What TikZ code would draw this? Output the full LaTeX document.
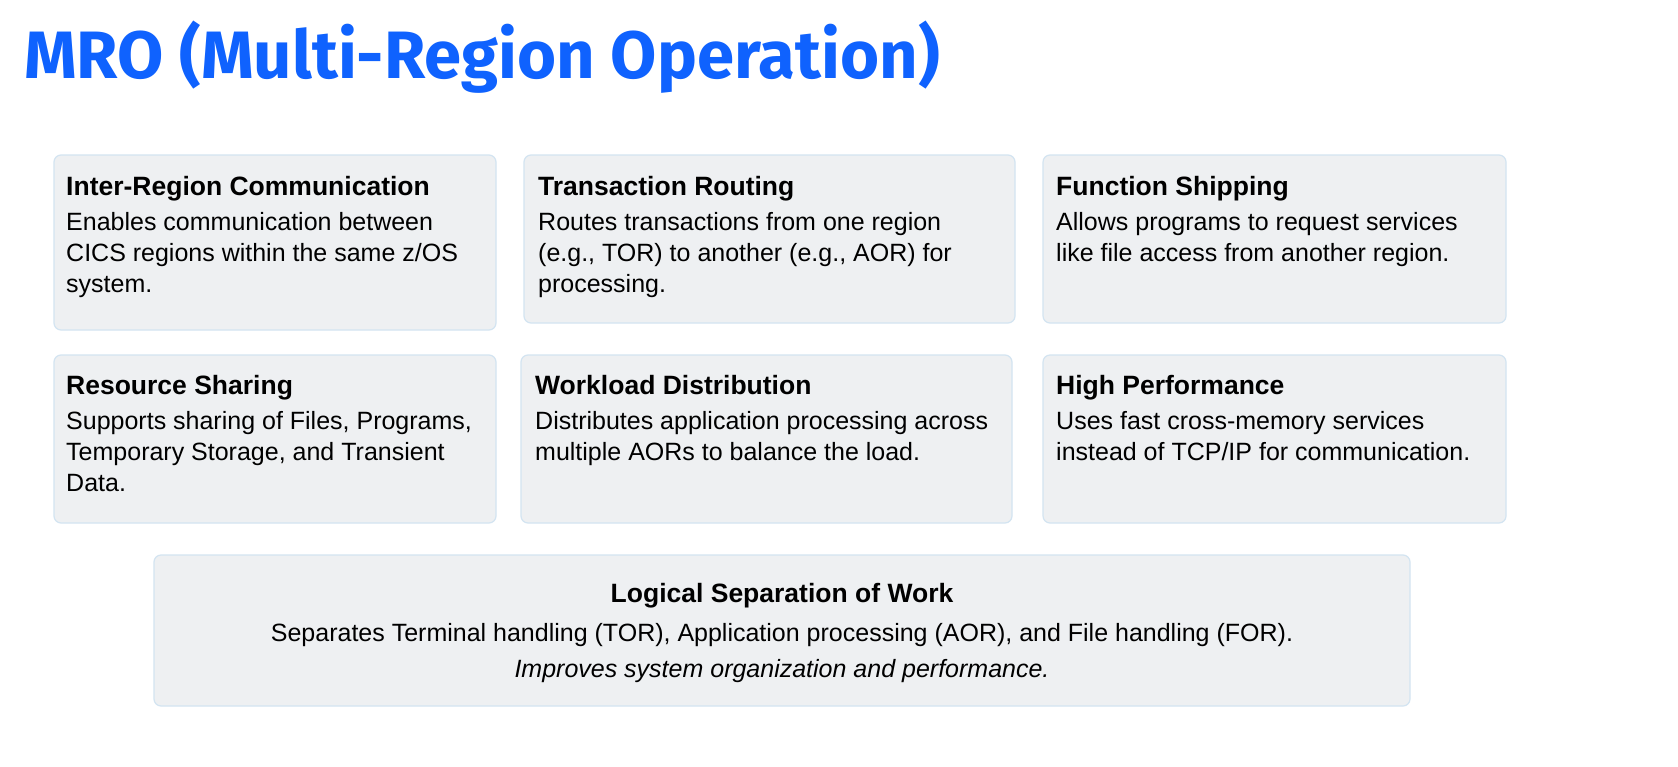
\documentclass[tikz,border=0pt]{standalone}
\usepackage{fontspec}
\setmainfont{Liberation Sans}
\newfontfamily\titlefont{Fira Sans}
\begin{document}
\begin{tikzpicture}[x=1pt,y=-1pt]
\definecolor{ttl}{HTML}{0F62FE}
\definecolor{boxfill}{HTML}{EEF0F2}
\definecolor{boxline}{HTML}{D3E4F1}
\tikzset{card/.style={draw=boxline,fill=boxfill,rounded corners=7pt,line width=1.2pt},
 hd/.style={anchor=base west,font=\fontsize{26.5}{30}\selectfont\bfseries,inner sep=0pt},
 bd/.style={anchor=north west,font=\fontsize{25}{31}\selectfont,align=left,inner sep=0pt}}
\useasboundingbox (0,0) rectangle (1678,766);
\fill[white] (0,0) rectangle (1678,766);
\node[anchor=base west,inner sep=0pt,text=ttl,font=\titlefont\fontsize{67}{72}\selectfont\bfseries] (title) at (24,78) {MRO (Multi-Region Operation)};
% row 1
\draw[card] (54,155) rectangle (496,330);
\node[hd] (h1) at (66,195) {Inter-Region Communication};
\node[bd] (b1) at (66,212) {Enables communication between\\CICS regions within the same z/OS\\system.};
\draw[card] (524,155) rectangle (1015,323);
\node[hd] (h2) at (538,195) {Transaction Routing};
\node[bd] (b2) at (538,212) {Routes transactions from one region\\(e.g., TOR) to another (e.g., AOR) for\\processing.};
\draw[card] (1043,155) rectangle (1506,323);
\node[hd] (h3) at (1056,195) {Function Shipping};
\node[bd] (b3) at (1056,212) {Allows programs to request services\\like file access from another region.};
% row 2
\draw[card] (54,355) rectangle (496,523);
\node[hd] (h4) at (66,394) {Resource Sharing};
\node[bd] (b4) at (66,411) {Supports sharing of Files, Programs,\\Temporary Storage, and Transient\\Data.};
\draw[card] (521,355) rectangle (1012,523);
\node[hd] (h5) at (535,394) {Workload Distribution};
\node[bd] (b5) at (535,411) {Distributes application processing across\\multiple AORs to balance the load.};
\draw[card] (1043,355) rectangle (1506,523);
\node[hd] (h6) at (1056,394) {High Performance};
\node[bd] (b6) at (1056,411) {Uses fast cross-memory services\\instead of TCP/IP for communication.};
% bottom
\draw[card] (154,555) rectangle (1410,706);
\node[anchor=base,inner sep=0pt,font=\fontsize{26.5}{30}\selectfont\bfseries] (h7) at (782,602) {Logical Separation of Work};
\node[anchor=base,inner sep=0pt,font=\fontsize{25}{30}\selectfont] (b7) at (782,641) {Separates Terminal handling (TOR), Application processing (AOR), and File handling (FOR).};
\node[anchor=base,inner sep=0pt,font=\fontsize{25}{30}\selectfont\itshape] (i7) at (782,677) {Improves system organization and performance.};
\end{tikzpicture}
\end{document}
